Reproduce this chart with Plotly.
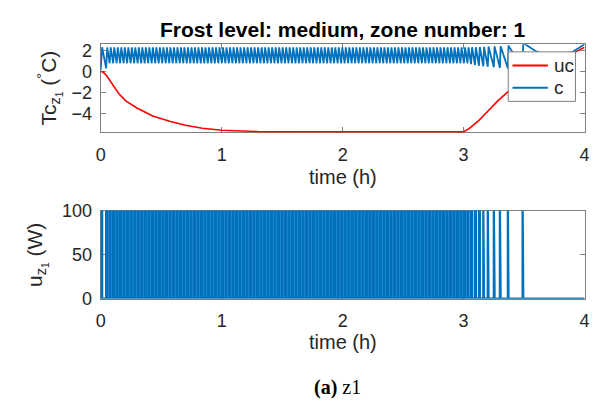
import plotly.graph_objects as go

# ---- data -------------------------------------------------------------
# uncontrolled zone temperature (uc), degC
uc_t = [0, 0.02, 0.05, 0.08, 0.11, 0.15, 0.21, 0.3, 0.43, 0.57, 0.7, 0.84,
        1.0, 1.15, 1.3, 1.6, 2.0, 2.5, 3.0, 3.05, 3.127, 3.2, 3.276, 3.358,
        3.45, 3.55, 3.65, 3.75, 3.85, 3.95, 4.0]
uc_v = [0, -0.05, -0.4, -0.9, -1.5, -2.1, -2.8, -3.45, -4.2, -4.7, -5.07, -5.36,
        -5.55, -5.64, -5.68, -5.7, -5.7, -5.7, -5.7, -5.35, -4.62, -3.75, -2.84, -2.0,
        -1.1, -0.3, 0.4, 0.95, 1.45, 2.0, 2.3]

# heater switch-on instants (h)
pulse_on = [
    0.0,
    0.045, 0.074, 0.103, 0.132, 0.161, 0.190, 0.219, 0.248, 0.277, 0.306,
    0.335, 0.364, 0.393, 0.422, 0.451, 0.480, 0.509, 0.538, 0.567, 0.596,
    0.625, 0.654, 0.683, 0.712, 0.741, 0.770, 0.799, 0.828, 0.857, 0.886,
    0.915, 0.944, 0.973, 1.002, 1.031, 1.060, 1.089, 1.118, 1.147, 1.176,
    1.205, 1.234, 1.263, 1.292, 1.321, 1.350, 1.379, 1.408, 1.437, 1.466,
    1.495, 1.524, 1.553, 1.582, 1.611, 1.640, 1.669, 1.698, 1.727, 1.756,
    1.785, 1.814, 1.843, 1.872, 1.901, 1.930, 1.959, 1.988, 2.017, 2.046,
    2.075, 2.104, 2.133, 2.162, 2.191, 2.220, 2.249, 2.278, 2.307, 2.336,
    2.365, 2.394, 2.423, 2.452, 2.481, 2.510, 2.539, 2.568, 2.597, 2.626,
    2.655, 2.684, 2.713, 2.742, 2.771, 2.800, 2.829, 2.858, 2.887, 2.916,
    2.945, 2.974, 3.003, 3.032,
    3.062, 3.094, 3.127, 3.163, 3.200, 3.250, 3.300, 3.366, 3.488,
]
# heater on-durations (h)
pulse_len = ([0.012] + [0.009] * 104 +
             [0.008, 0.007, 0.007, 0.006, 0.006, 0.006, 0.006, 0.005, 0.005])
# controlled temperature at switch-on (troughs) and switch-off (peaks)
c_trough = ([0.15, 0.3] + [0.78] * 103 +
            [0.7, 0.6, 0.55, 0.5, 0.45, 0.4, 0.35, 0.3, 0.3])
c_peak = ([2.3] + [2.28] * 104 +
          [2.3, 2.3, 2.32, 2.34, 2.36, 2.38, 2.4, 2.45, 2.7])
# controlled temperature after the last heater pulse
c_tail_t = [3.6, 3.7, 3.8, 3.9, 4.0]
c_tail_v = [1.9, 1.55, 1.5, 1.85, 2.58]

u_max = 100
x_ticks = [0, 1, 2, 3, 4]
tc_ticks = [-4, -2, 0, 2]
u_ticks = [0, 50, 100]
legend_names = ["uc", "c"]

# ---- build traces -----------------------------------------------------
c_t, c_v = [], []
u_t, u_v = [], []
for t0, dur, lo, hi in zip(pulse_on, pulse_len, c_trough, c_peak):
    c_t += [t0, t0 + dur]
    c_v += [lo, hi]
    u_t += [t0, t0, t0 + dur, t0 + dur]
    u_v += [0, u_max, u_max, 0]
c_t += c_tail_t
c_v += c_tail_v
u_t += [4.0]
u_v += [0]

RED = "#FF0000"
BLUE = "#0072BD"
AX = "#7f7f7f"
TXT = "#262626"
FONT = "Liberation Sans"
W, H = 606, 414


def py(px):
    """pixel row (from top) -> paper y"""
    return 1 - px / H


def px_(p):
    """pixel column -> paper x"""
    return p / W


fig = go.Figure()
fig.add_trace(go.Scatter(x=uc_t, y=uc_v, mode="lines", name=legend_names[0],
                         line=dict(color=RED, width=1.6), xaxis="x", yaxis="y"))
fig.add_trace(go.Scatter(x=c_t, y=c_v, mode="lines", name=legend_names[1],
                         line=dict(color=BLUE, width=1.8), xaxis="x", yaxis="y"))
fig.add_trace(go.Scatter(x=u_t, y=u_v, mode="lines",
                         line=dict(color=BLUE, width=2.3), xaxis="x2", yaxis="y2"))

xl, xr = px_(97.3), px_(589.3)

axis_common = dict(showline=True, linecolor=AX, linewidth=1, mirror="ticks",
                   ticks="inside", ticklen=5, tickcolor=AX, showgrid=False,
                   zeroline=False, layer="below traces",
                   tickfont=dict(family=FONT, size=18, color=TXT))

fig.update_layout(
    width=W, height=H, margin=dict(l=0, r=0, t=0, b=0),
    plot_bgcolor="white", paper_bgcolor="white", showlegend=False,
    xaxis=dict(domain=[xl, xr], range=[0, 4], tickvals=x_ticks, anchor="y",
               ticklabelstandoff=6, **axis_common),
    yaxis=dict(domain=[py(128.7), py(36)], range=[-5.76, 2.58],
               tickvals=tc_ticks, anchor="x", ticklabelstandoff=4, **axis_common),
    xaxis2=dict(domain=[xl, xr], range=[0, 4], tickvals=x_ticks, anchor="y2",
                ticklabelstandoff=6, **axis_common),
    yaxis2=dict(domain=[py(303.3), py(210.7)], range=[0, 100],
                tickvals=u_ticks, anchor="x2", ticklabelstandoff=4, **axis_common),
)

# legend box (drawn over the curves)
fig.add_shape(type="rect", xref="paper", yref="paper", layer="above",
              x0=px_(511.7), x1=px_(580), y0=py(96), y1=py(44),
              fillcolor="white", line=dict(color=AX, width=1))
for name, color, row in [(legend_names[0], RED, 58.3), (legend_names[1], BLUE, 81.7)]:
    fig.add_shape(type="line", xref="paper", yref="paper", layer="above",
                  x0=px_(516), x1=px_(552), y0=py(row), y1=py(row),
                  line=dict(color=color, width=1.8))
    fig.add_annotation(text=name, xref="paper", yref="paper", showarrow=False,
                       x=px_(556), y=py(row), xanchor="left", yanchor="middle",
                       font=dict(family=FONT, size=19, color=TXT))

ann = [
    dict(text="<b>Frost level: medium, zone number: 1</b>", x=px_(343.3), y=py(20),
         font=dict(family=FONT, size=21, color="black")),
    dict(text="time (h)", x=px_(343.3), y=py(176),
         font=dict(family=FONT, size=20, color=TXT)),
    dict(text="time (h)", x=px_(343.3), y=py(349),
         font=dict(family=FONT, size=20, color=TXT)),
    dict(text="Tc<sub>z<sub>1</sub></sub> (<sup>°</sup>C)", x=px_(45), y=py(82.3),
         textangle=-90, font=dict(family=FONT, size=21, color=TXT)),
    dict(text="u<sub>z<sub>1</sub></sub> (W)", x=px_(32), y=py(257),
         textangle=-90, font=dict(family=FONT, size=21, color=TXT)),
    dict(text="<b>(a)</b> z1", x=px_(338), y=py(397),
         font=dict(family="Liberation Serif", size=20, color="black")),
]
for a in ann:
    fig.add_annotation(xref="paper", yref="paper", showarrow=False,
                       xanchor="center", yanchor="middle", **a)

fig.write_html("out.html")
